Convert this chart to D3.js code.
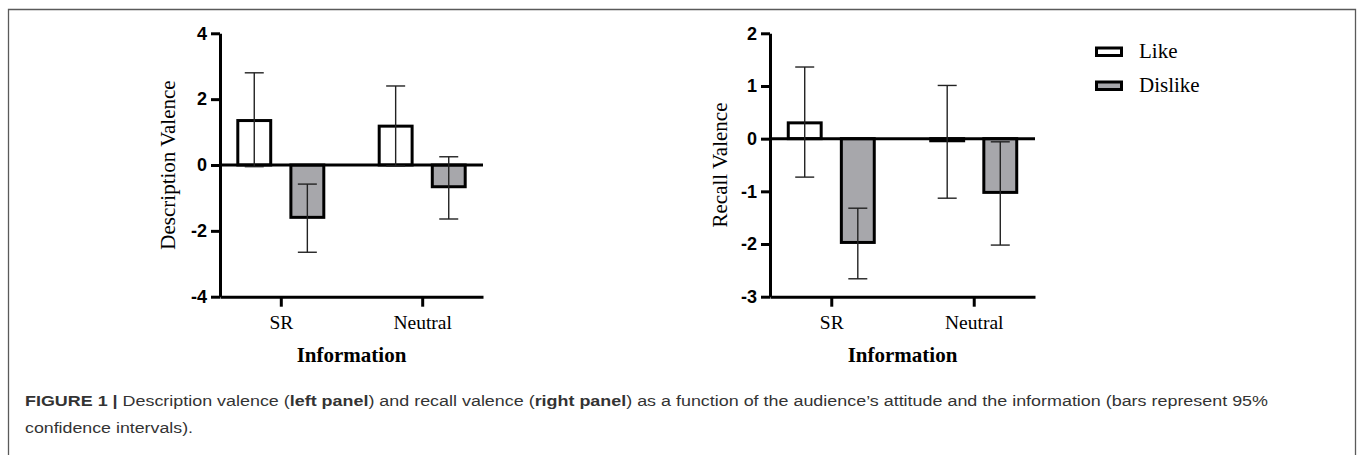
<!DOCTYPE html>
<html>
<head>
<meta charset="utf-8">
<script src="https://cdn.jsdelivr.net/npm/d3@7"></script>
<style>
  body { margin: 0; background: #fff; }
  svg { display: block; }
</style>
</head>
<body>
<div id="chart"></div>
<script>
// categories and groups
const categories = ["SR", "Neutral"];
const attitudes = ["Like", "Dislike"];

// left panel: description valence (means and 95% CI)
const descLike = [1.35, 1.18];
const descLikeLo = [-0.05, -0.03];
const descLikeHi = [2.80, 2.40];
const descDislike = [-1.59, -0.66];
const descDislikeLo = [-2.65, -1.64];
const descDislikeHi = [-0.58, 0.25];
const descTicks = [-4, -2, 0, 2, 4];

// right panel: recall valence
const recallLike = [0.30, -0.04];
const recallLikeLo = [-0.73, -1.13];
const recallLikeHi = [1.36, 1.01];
const recallDislike = [-1.97, -1.02];
const recallDislikeLo = [-2.66, -2.02];
const recallDislikeHi = [-1.32, -0.06];
const recallTicks = [-3, -2, -1, 0, 1, 2];

const W = 1357, H = 455;
const fills = {Like: "#ffffff", Dislike: "#a7a7ab"};
const serif = "'Liberation Serif', 'Times New Roman', serif";
const sans = "'Liberation Sans', Arial, Helvetica, sans-serif";

const svg = d3.select("#chart").append("svg")
  .attr("width", W)
  .attr("height", H);

// frame around the figure
svg.append("path")
  .attr("d", `M8.5,${H} V9.5 H1355.5 V${H}`)
  .attr("fill", "none")
  .attr("stroke", "#5a5a5a")
  .attr("stroke-width", 1.3);

function drawPanel(p) {
  const y = d3.scaleLinear().domain(p.domain).range([296.7, 33.3]);
  const x = d3.scalePoint().domain(categories).range([p.x0, p.x1]).padding(0.43);
  const inner = d3.scaleBand().domain(attitudes).range([-43, 43]).paddingInner(0.38);

  // table built from the arrays
  const rows = [];
  categories.forEach((c, i) => {
    rows.push({cat: c, att: "Like", v: p.like[i], lo: p.likeLo[i], hi: p.likeHi[i]});
    rows.push({cat: c, att: "Dislike", v: p.dislike[i], lo: p.dislikeLo[i], hi: p.dislikeHi[i]});
  });

  const g = svg.append("g");

  // y axis
  const yAxis = g.append("g")
    .attr("transform", `translate(${p.x0},0)`)
    .call(d3.axisLeft(y).tickValues(p.ticks).tickFormat(d => String(d))
      .tickSize(9).tickSizeOuter(0).tickPadding(4));
  yAxis.select(".domain").attr("stroke", "#000").attr("stroke-width", 3);
  yAxis.selectAll(".tick line").attr("stroke", "#000").attr("stroke-width", 3);
  yAxis.selectAll(".tick text")
    .attr("font-family", sans)
    .attr("font-weight", "bold")
    .attr("font-size", 18)
    .attr("fill", "#000");

  // x axis
  const xAxis = g.append("g")
    .attr("transform", `translate(0,${y(p.domain[0])})`)
    .call(d3.axisBottom(x).tickSize(10).tickSizeOuter(0).tickPadding(8.5));
  xAxis.select(".domain").attr("stroke", "#000").attr("stroke-width", 3);
  xAxis.selectAll(".tick line").attr("stroke", "#000").attr("stroke-width", 3);
  xAxis.selectAll(".tick text")
    .attr("font-family", serif)
    .attr("font-size", 19.5)
    .attr("fill", "#000");

  // bars
  g.selectAll("rect.bar")
    .data(rows)
    .enter().append("rect")
    .attr("class", "bar")
    .attr("x", d => x(d.cat) + inner(d.att))
    .attr("y", d => Math.min(y(d.v), y(0)))
    .attr("width", inner.bandwidth())
    .attr("height", d => Math.abs(y(d.v) - y(0)))
    .attr("fill", d => fills[d.att])
    .attr("stroke", "#000")
    .attr("stroke-width", 3);

  // zero line
  g.append("line")
    .attr("x1", p.x0).attr("x2", p.x1)
    .attr("y1", y(0)).attr("y2", y(0))
    .attr("stroke", "#000")
    .attr("stroke-width", 3);

  // error bars
  const cap = 9.5;
  const eb = g.selectAll("g.err")
    .data(rows)
    .enter().append("g")
    .attr("class", "err")
    .attr("stroke", "#222")
    .attr("stroke-width", 1.4);
  const cx = d => x(d.cat) + inner(d.att) + inner.bandwidth() / 2;
  eb.append("line")
    .attr("x1", cx).attr("x2", cx)
    .attr("y1", d => y(d.lo)).attr("y2", d => y(d.hi));
  eb.append("line")
    .attr("x1", d => cx(d) - cap).attr("x2", d => cx(d) + cap)
    .attr("y1", d => y(d.hi)).attr("y2", d => y(d.hi));
  eb.append("line")
    .attr("x1", d => cx(d) - cap).attr("x2", d => cx(d) + cap)
    .attr("y1", d => y(d.lo)).attr("y2", d => y(d.lo));

  // axis titles
  g.append("text")
    .attr("transform", `translate(${p.titleX},165) rotate(-90)`)
    .attr("text-anchor", "middle")
    .attr("font-family", serif)
    .attr("font-size", 21)
    .text(p.title);

  g.append("text")
    .attr("x", (p.x0 + p.x1) / 2)
    .attr("y", 361.7)
    .attr("text-anchor", "middle")
    .attr("font-family", serif)
    .attr("font-weight", "bold")
    .attr("font-size", 21)
    .text("Information");
}

drawPanel({
  x0: 220, x1: 483, domain: [-4, 4], ticks: descTicks,
  like: descLike, likeLo: descLikeLo, likeHi: descLikeHi,
  dislike: descDislike, dislikeLo: descDislikeLo, dislikeHi: descDislikeHi,
  title: "Description Valence", titleX: 175
});

drawPanel({
  x0: 770, x1: 1035, domain: [-3, 2], ticks: recallTicks,
  like: recallLike, likeLo: recallLikeLo, likeHi: recallLikeHi,
  dislike: recallDislike, dislikeLo: recallDislikeLo, dislikeHi: recallDislikeHi,
  title: "Recall Valence", titleX: 726.5
});

// legend
const legend = svg.append("g").attr("transform", "translate(1095,46.5)");
attitudes.forEach((a, i) => {
  legend.append("rect")
    .attr("x", 1.5)
    .attr("y", i * 34 + 1.5)
    .attr("width", 25)
    .attr("height", 7.5)
    .attr("fill", fills[a])
    .attr("stroke", "#000")
    .attr("stroke-width", 3);
  legend.append("text")
    .attr("x", 44)
    .attr("y", i * 34 + 11)
    .attr("font-family", serif)
    .attr("font-size", 21)
    .text(a);
});

// caption
const cap1 = svg.append("text")
  .attr("x", 25)
  .attr("y", 406)
  .attr("font-family", sans)
  .attr("font-size", 15.5)
  .attr("fill", "#333")
  .attr("textLength", 1243)
  .attr("lengthAdjust", "spacingAndGlyphs");
cap1.append("tspan").attr("font-weight", "bold").text("FIGURE 1 | ");
cap1.append("tspan").text("Description valence (");
cap1.append("tspan").attr("font-weight", "bold").text("left panel");
cap1.append("tspan").text(") and recall valence (");
cap1.append("tspan").attr("font-weight", "bold").text("right panel");
cap1.append("tspan").text(") as a function of the audience\u2019s attitude and the information (bars represent 95%");

svg.append("text")
  .attr("x", 25)
  .attr("y", 433)
  .attr("font-family", sans)
  .attr("font-size", 15.5)
  .attr("fill", "#333")
  .attr("textLength", 168)
  .attr("lengthAdjust", "spacingAndGlyphs")
  .text("confidence intervals).");
</script>
</body>
</html>
